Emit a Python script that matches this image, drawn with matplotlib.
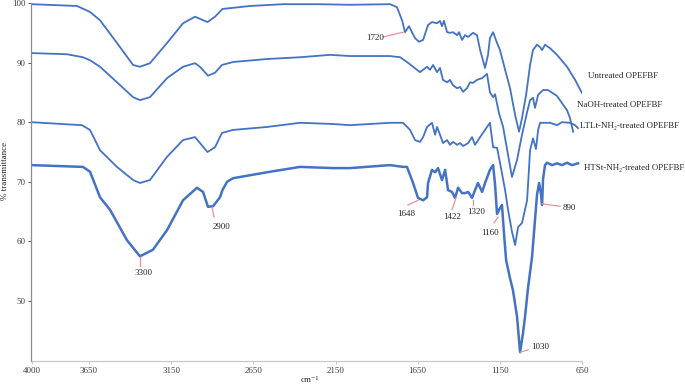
import matplotlib
matplotlib.use("Agg")
import matplotlib.pyplot as plt

plt.rcParams['font.family'] = ['Liberation Serif', 'DejaVu Serif']

# FTIR spectra (wavenumber cm-1, % transmittance)
untreated_wn = [4000, 3723, 3644, 3583, 3480, 3382, 3340, 3279, 3175, 3078, 3005, 2929, 2883,
                2838, 2670, 2469, 2262, 2062, 1818, 1776, 1745, 1727, 1703, 1666, 1642, 1617,
                1587, 1563, 1532, 1514, 1502, 1490, 1471, 1453, 1435, 1410, 1398, 1380, 1362,
                1343, 1313, 1289, 1270, 1240, 1222, 1210, 1191, 1167, 1149, 1118, 1088, 1057,
                1033, 1015, 990, 966, 948, 924, 905, 893, 875, 844, 802, 741, 692, 650]
untreated_t = [99.8, 99.5, 98.5, 97.1, 93.3, 89.6, 89.3, 89.9, 93.3, 96.6, 97.7, 96.8, 97.7,
               99.0, 99.5, 99.8, 99.8, 99.7, 99.8, 99.3, 97.1, 95.1, 96.1, 94.1, 93.5, 93.8,
               96.3, 96.8, 96.6, 97.0, 96.1, 97.0, 95.1, 95.0, 95.1, 94.6, 95.1, 93.8, 94.6,
               94.3, 95.0, 94.6, 92.1, 89.1, 91.3, 94.1, 95.1, 93.3, 92.1, 88.8, 85.7, 81.2,
               78.4, 80.7, 84.6, 89.6, 92.1, 93.0, 92.6, 92.1, 93.0, 92.4, 91.3, 89.3, 87.1, 84.9]

naoh_wn = [4000, 3784, 3687, 3644, 3583, 3480, 3382, 3340, 3279, 3175, 3078, 3005, 2975,
           2926, 2883, 2841, 2774, 2567, 2366, 2183, 2062, 1818, 1757, 1715, 1678, 1636,
           1617, 1593, 1575, 1556, 1532, 1514, 1496, 1471, 1453, 1435, 1410, 1392, 1374,
           1350, 1331, 1313, 1289, 1258, 1228, 1210, 1191, 1179, 1155, 1130, 1100, 1076,
           1045, 1015, 984, 966, 948, 936, 917, 887, 857, 802, 741, 723, 704]
naoh_t = [91.6, 91.4, 90.9, 90.4, 89.3, 86.7, 84.2, 83.7, 84.2, 87.4, 89.3, 89.9, 89.3,
          87.8, 88.3, 89.6, 90.1, 90.6, 90.9, 91.3, 91.1, 91.1, 90.9, 90.1, 89.3, 88.4,
          88.8, 89.3, 88.8, 89.6, 88.4, 89.1, 87.1, 86.7, 87.1, 86.2, 85.7, 85.9, 85.1,
          85.7, 86.7, 86.6, 87.1, 87.4, 88.1, 85.0, 84.2, 84.7, 81.5, 79.2, 74.5, 70.8,
          73.7, 77.9, 81.7, 83.7, 84.1, 82.4, 84.6, 85.4, 85.4, 84.4, 82.0, 80.7, 78.4]

ltlt_wn = [4000, 3693, 3644, 3583, 3480, 3382, 3340, 3279, 3175, 3078, 3005, 2929, 2883,
           2841, 2774, 2567, 2366, 2165, 2062, 1818, 1739, 1696, 1666, 1636, 1617, 1593,
           1563, 1544, 1532, 1514, 1496, 1471, 1453, 1435, 1410, 1392, 1374, 1343, 1319,
           1301, 1270, 1228, 1210, 1191, 1167, 1149, 1118, 1100, 1076, 1057, 1039, 1015,
           984, 966, 948, 930, 917, 905, 844, 802, 772, 723, 692, 674]
ltlt_t = [80.0, 79.5, 78.7, 75.3, 72.5, 70.3, 69.8, 70.3, 74.2, 77.0, 77.5, 75.0, 75.8,
          78.2, 78.7, 79.2, 79.9, 79.7, 79.5, 79.9, 79.9, 78.7, 77.0, 76.7, 77.5, 79.2,
          79.9, 77.9, 79.2, 77.9, 76.5, 77.0, 76.2, 76.7, 76.2, 76.5, 76.0, 76.5, 77.5,
          76.2, 77.5, 79.2, 79.9, 75.8, 75.7, 73.2, 68.6, 65.3, 61.6, 59.4, 62.4, 63.1,
          66.9, 75.3, 77.3, 75.5, 78.7, 79.9, 79.9, 79.5, 80.0, 79.9, 79.5, 79.0]

htst_wn = [4000, 3687, 3644, 3583, 3522, 3419, 3340, 3261, 3175, 3078, 2993, 2956, 2926,
           2895, 2853, 2838, 2810, 2774, 2567, 2366, 2165, 2062, 1818, 1739, 1715, 1678,
           1648, 1617, 1593, 1587, 1563, 1544, 1526, 1502, 1483, 1465, 1441, 1423, 1404,
           1380, 1362, 1343, 1319, 1301, 1283, 1258, 1240, 1210, 1191, 1179, 1167, 1149,
           1137, 1124, 1112, 1088, 1070, 1045, 1027, 1009, 997, 978, 954, 936, 924, 911,
           899, 893, 887, 875, 863, 832, 802, 772, 741, 711, 674]
htst_t = [72.8, 72.5, 71.7, 67.4, 65.3, 60.2, 57.5, 58.6, 61.9, 66.9, 69.0, 68.3, 65.8,
          65.9, 67.4, 68.6, 70.0, 70.6, 71.6, 72.5, 72.3, 72.3, 72.8, 72.5, 72.5, 69.8,
          67.3, 66.9, 67.4, 69.8, 72.0, 71.6, 72.3, 70.3, 72.0, 68.6, 68.3, 67.3, 69.0,
          68.1, 68.1, 68.3, 67.3, 68.6, 69.8, 68.3, 69.8, 72.0, 72.8, 69.5, 64.6, 65.6,
          66.1, 61.1, 56.9, 53.8, 51.8, 47.3, 41.4, 44.6, 47.3, 52.3, 57.4, 63.6, 67.8,
          69.8, 67.8, 66.1, 70.5, 72.8, 73.2, 72.8, 73.1, 72.8, 73.2, 72.8, 73.1]

series_names = ["Untreated OPEFBF", "NaOH-treated OPEFBF",
                "LTLt-NH\u2082-treated OPEFBF", "HTSt-NH\u2082-treated OPEFBF"]

# peak labels: (text, text pos, leader start, leader end)
peak_labels = ["1720", "3300", "2900", "1648", "1422", "1320", "1160", "890", "1030"]
peak_text_xy = [(1909, 94.1), (3321, 54.7), (2841, 62.4), (1721, 64.6), (1441, 64.1),
                (1295, 64.9), (1210, 61.4), (729, 65.6), (905, 42.3)]
peak_lead = [((1861, 94.3), (1739, 95.1)), ((3340, 55.9), (3340, 57.4)),
             ((2889, 64.1), (2901, 65.6)), ((1709, 66.1), (1648, 66.9)),
             ((1441, 65.3), (1417, 67.3)), ((1313, 66.1), (1313, 66.9)),
             ((1185, 63.1), (1161, 64.1)), ((784, 65.9), (893, 66.3)),
             ((978, 41.8), (1027, 41.4))]

xticks = [4000, 3650, 3150, 2650, 2150, 1650, 1150, 650]
yticks = [50, 60, 70, 80, 90, 100]

blue = '#4472c4'
pink = '#ee8f98'

fig = plt.figure(figsize=(6.85, 3.85), dpi=100)
ax = fig.add_axes([31.5 / 685, 1 - 360.6 / 385, 550.5 / 685, 357.6 / 385])

ax.plot(untreated_wn, untreated_t, color=blue, lw=1.3)
ax.plot(naoh_wn, naoh_t, color=blue, lw=1.3)
ax.plot(ltlt_wn, ltlt_t, color=blue, lw=1.3)
ax.plot(htst_wn, htst_t, color=blue, lw=1.8)

for lab, (tx, ty), (p0, p1) in zip(peak_labels, peak_text_xy, peak_lead):
    ax.plot([p0[0], p1[0]], [p0[1], p1[1]], color=pink, lw=0.9)
    ax.text(tx, ty, lab, fontsize=6.5, ha='center', va='center', color='#262626')

# series names to the right of the plot
name_pos = [(613, 87.8), (680, 82.9), (665, 79.4), (636, 72.3)]
for name, (nx, ny) in zip(series_names, name_pos):
    ax.text(nx, ny, name, fontsize=6.4, ha='left', va='center', color='#262626', clip_on=False)

ax.set_xlim(4000, 650)
ax.set_ylim(40, 100)
ax.set_xticks(xticks)
ax.set_xticklabels([str(t) for t in xticks])
ax.set_yticks(yticks)
ax.set_yticklabels([str(t) for t in yticks])
ax.tick_params(axis='both', labelsize=6.5, colors='#404040', length=2.5, width=0.6, pad=2)
ax.tick_params(axis='x', colors='#bfbfbf', labelcolor='#404040')

for s in ['top', 'right']:
    ax.spines[s].set_visible(False)
ax.spines['left'].set_color('#8c8c8c')
ax.spines['bottom'].set_color('#c8c8c8')
ax.spines['left'].set_linewidth(0.9)
ax.spines['bottom'].set_linewidth(0.9)

fig.text(5 / 685, 1 - 171 / 385, '% transmittance', rotation=90, fontsize=6.5,
         ha='center', va='center', color='#262626')
fig.text(310 / 685, 1 - 380 / 385, 'cm\u207b\u00b9', fontsize=6.5, ha='center',
         va='center', color='#262626')

fig.savefig('out.png', dpi=100)
